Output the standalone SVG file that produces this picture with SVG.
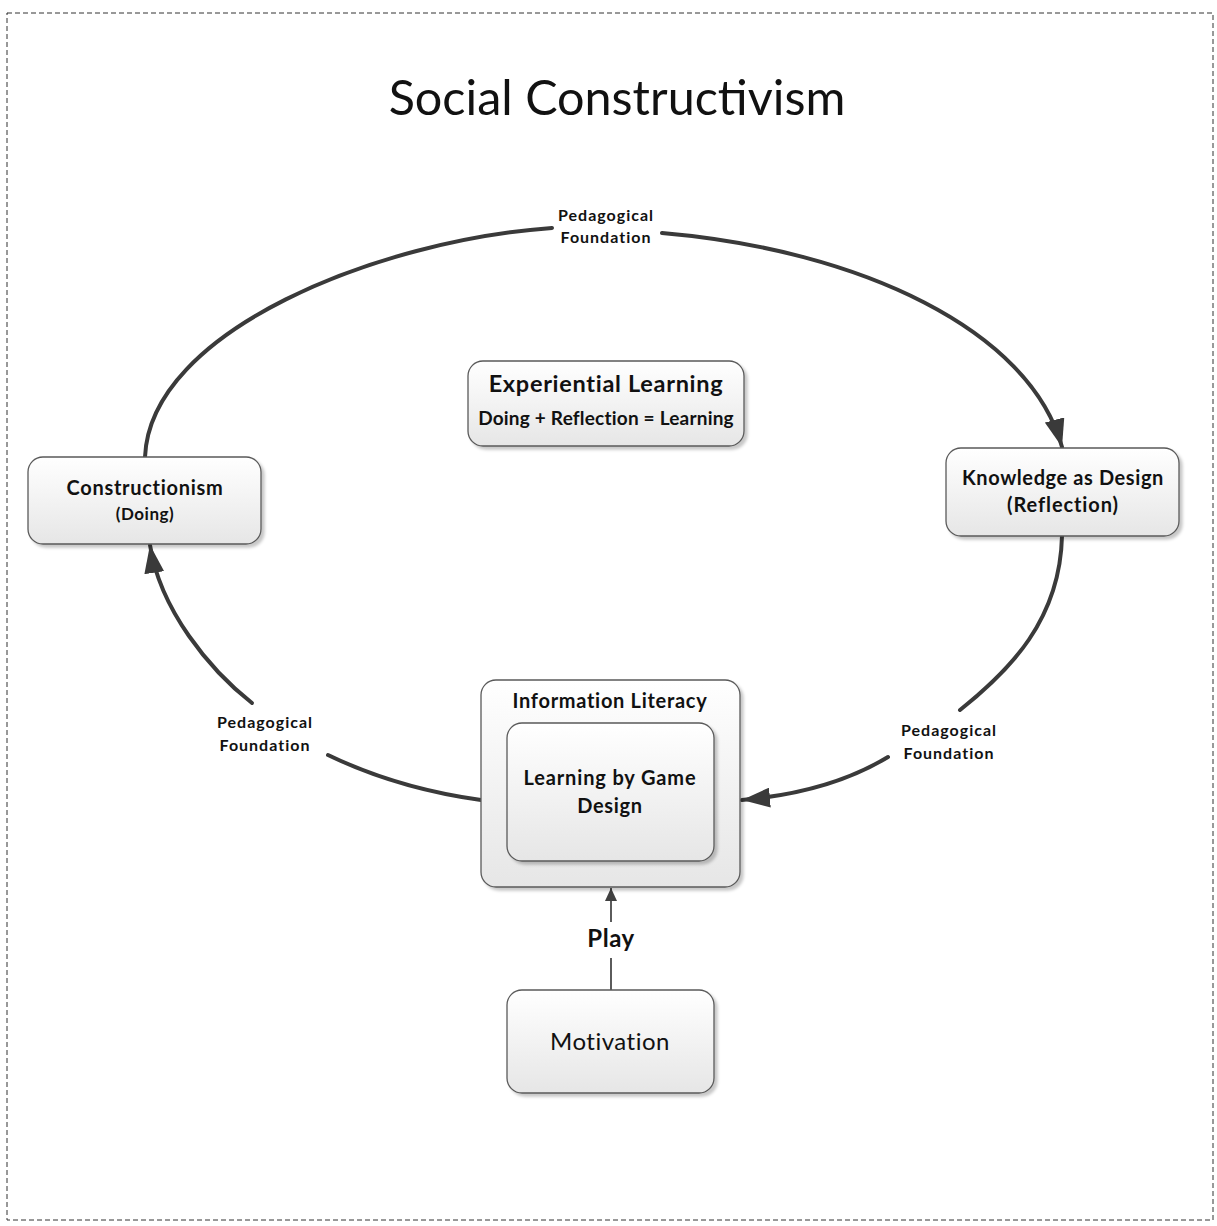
<svg xmlns="http://www.w3.org/2000/svg" width="1217" height="1226" viewBox="0 0 1217 1226">
<defs>
  <linearGradient id="boxfill" x1="0" y1="0" x2="0" y2="1">
    <stop offset="0" stop-color="#ffffff"/>
    <stop offset="1" stop-color="#e6e6e6"/>
  </linearGradient>
  <filter id="shadow" x="-10%" y="-10%" width="125%" height="125%">
    <feDropShadow dx="3" dy="3" stdDeviation="1.5" flood-color="#000" flood-opacity="0.22"/>
  </filter>
  <marker id="bigArrow" markerUnits="userSpaceOnUse" markerWidth="30" markerHeight="20" refX="28" refY="10" orient="auto">
    <path d="M0,0 L28,10 L0,20 Z" fill="#3a3a3a"/>
  </marker>
  <marker id="smallArrow" markerUnits="userSpaceOnUse" markerWidth="14" markerHeight="12" refX="13" refY="6" orient="auto">
    <path d="M0,0 L13,6 L0,12 Z" fill="#404040"/>
  </marker>
</defs>
<style>
  .box { fill: url(#boxfill); stroke: #5a5a5a; stroke-width: 1.3; filter: url(#shadow); }
  .conn { fill: none; stroke: #3a3a3a; stroke-width: 4; stroke-linecap: round; }
  .thin { fill: none; stroke: #4a4a4a; stroke-width: 1.8; }
  text { font-family: Lato, "Open Sans", "Liberation Sans", sans-serif; fill: #111; text-anchor: middle; }
  .b { font-weight: bold; }
  .lbl { font-weight: bold; font-size: 16px; letter-spacing: 1px; }
</style>
<rect x="7" y="13" width="1206" height="1207" fill="#fff" stroke="#333" stroke-width="1" stroke-dasharray="5,3"/>
<text x="617" y="115" font-size="48.5">Social Constructivism</text>

<g id="connectors">
  <path class="conn" d="M145,457 C150,330 380,240 552,228"/>
  <path class="conn" d="M662,233 C860,250 1030,330 1062,447" marker-end="url(#bigArrow)"/>
  <path class="conn" d="M1062,536 C1060,620 1010,670 960,710"/>
  <path class="conn" d="M888,757 C850,780 800,795 742,800" marker-end="url(#bigArrow)"/>
  <path class="conn" d="M481,800 C430,793 380,780 328,755"/>
  <path class="conn" d="M252,703 C210,670 160,610 150,545" marker-end="url(#bigArrow)"/>
  <path class="thin" d="M611,990 L611,958"/>
  <path class="thin" d="M611,922 L611,888" marker-end="url(#smallArrow)"/>
  <text class="lbl" x="606" y="221">Pedagogical</text>
  <text class="lbl" x="606" y="243">Foundation</text>
  <text class="lbl" x="265" y="728">Pedagogical</text>
  <text class="lbl" x="265" y="751">Foundation</text>
  <text class="lbl" x="949" y="736">Pedagogical</text>
  <text class="lbl" x="949" y="759">Foundation</text>
  <text class="b" x="611" y="947" font-size="24" letter-spacing="0.5">Play</text>
</g>

<g id="experiential">
  <rect class="box" x="468" y="361" width="276" height="85" rx="15"/>
  <text class="b" x="606" y="392" font-size="23.5" letter-spacing="0.7">Experiential Learning</text>
  <text class="b" x="606" y="425" font-size="19" letter-spacing="0.2">Doing + Reflection = Learning</text>
</g>
<g id="constructionism">
  <rect class="box" x="28" y="457" width="233" height="87" rx="15"/>
  <text class="b" x="145" y="495" font-size="20" letter-spacing="0.7">Constructionism</text>
  <text class="b" x="145" y="520" font-size="17" letter-spacing="0.5">(Doing)</text>
</g>
<g id="knowledge">
  <rect class="box" x="946" y="448" width="233" height="88" rx="15"/>
  <text class="b" x="1063" y="485" font-size="20" letter-spacing="0.6">Knowledge as Design</text>
  <text class="b" x="1063" y="512" font-size="20" letter-spacing="0.9">(Reflection)</text>
</g>
<g id="infolit">
  <rect class="box" x="481" y="680" width="259" height="207" rx="15"/>
  <text class="b" x="610" y="708" font-size="20" letter-spacing="0.7">Information Literacy</text>
</g>
<g id="gamedesign">
  <rect class="box" x="507" y="723" width="207" height="138" rx="15"/>
  <text class="b" x="610" y="785" font-size="20" letter-spacing="0.85">Learning by Game</text>
  <text class="b" x="610" y="813" font-size="20" letter-spacing="0.7">Design</text>
</g>
<g id="motivation">
  <rect class="box" x="507" y="990" width="207" height="103" rx="15"/>
  <text x="610" y="1050" font-size="24" letter-spacing="0.5">Motivation</text>
</g>
</svg>
